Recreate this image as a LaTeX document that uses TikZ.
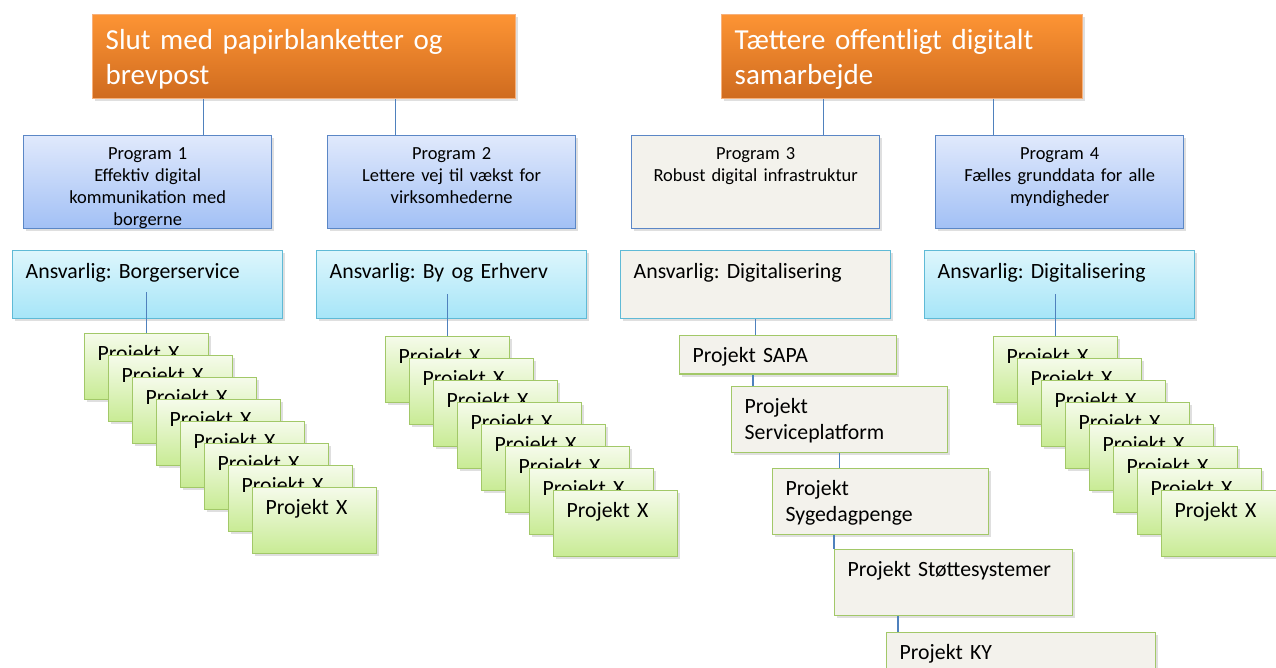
\documentclass[tikz,border=0pt]{standalone}
\usepackage{fontspec}
\setmainfont{Carlito}
\usepackage{xcolor}
\usepackage{tikz}
\usetikzlibrary{shadows}
\frenchspacing

\definecolor{goaltop}{HTML}{FD9434}
\definecolor{goalbot}{HTML}{CF6B1F}
\definecolor{goalline}{HTML}{F7B07A}
\definecolor{progtop}{HTML}{E0E9FC}
\definecolor{progbot}{HTML}{A2C0F5}
\definecolor{progline}{HTML}{5B87C6}
\definecolor{ansvtop}{HTML}{DDF6FC}
\definecolor{ansvbot}{HTML}{A6E5F8}
\definecolor{ansvline}{HTML}{5FBAD6}
\definecolor{projtop}{HTML}{F5FBEA}
\definecolor{projbot}{HTML}{C8EB94}
\definecolor{projline}{HTML}{A2C868}
\definecolor{beige}{HTML}{F3F2EC}
\definecolor{linkblue}{HTML}{4F81BD}

\begin{document}
\begin{tikzpicture}[x=0.02cm, y=-0.02cm,
			box/.style={rectangle, anchor=north west, line width=0.8pt, inner ysep=0pt, inner xsep=0.26cm, drop shadow={shadow xshift=0.04cm, shadow yshift=-0.05cm, opacity=0.25}},
			goal/.style={box, draw=goalline, top color=goaltop, bottom color=goalbot, text=white, align=left, text width=#1, text height=0.70cm, text depth=0.98cm, font=\fontsize{16.5}{20}\selectfont},
			progbox/.style={box, draw=progline, align=center, text width=4.44cm, text height=0.48cm, text depth=1.38cm, font=\fontsize{10.5}{12.5}\selectfont},
			prog/.style={progbox, top color=progtop, bottom color=progbot},
			progplain/.style={progbox, fill=beige},
			ansvbox/.style={box, draw=ansvline, align=left, text width=4.88cm, text height=0.56cm, text depth=0.80cm, font=\fontsize{12.4}{15}\selectfont},
			ansv/.style={ansvbox, top color=ansvtop, bottom color=ansvbot},
			ansvplain/.style={ansvbox, fill=beige},
			proj/.style={box, draw=projline, top color=projtop, bottom color=projbot, align=left, text width=1.96cm, text height=0.54cm, text depth=0.78cm, font=\fontsize{12.4}{15}\selectfont},
			task/.style={box, draw=projline, fill=beige, align=left, text width=#1, text height=0.53cm, text depth=0.79cm, font=\fontsize{12.4}{15}\selectfont},
			link/.style={draw=linkblue, line width=0.6pt}
		]
		\useasboundingbox (0,0) rectangle (1276,668);

		% Goals
		\node[goal=7.94cm] (g1) at (92,14) {Slut med papirblanketter og\\brevpost};
		\node[goal=6.70cm] (g2) at (721,14) {Tættere offentligt digitalt\\samarbejde};

		% Programs
		\node[prog] (p1) at (23,135) {Program 1\\Effektiv digital\\kommunikation med\\borgerne};
		\node[prog] (p2) at (327,135) {Program 2\\Lettere vej til vækst for\\virksomhederne};
		\node[progplain] (p3) at (631,135) {Program 3\\Robust digital infrastruktur};
		\node[prog] (p4) at (935,135) {Program 4\\Fælles grunddata for alle\\myndigheder};

		% Responsible units
		\node[ansv] (a1) at (12,250) {Ansvarlig: Borgerservice};
		\node[ansv] (a2) at (316,250) {Ansvarlig: By og Erhverv};
		\node[ansvplain] (a3) at (620,250) {Ansvarlig: Digitalisering};
		\node[ansv] (a4) at (924,250) {Ansvarlig: Digitalisering};

		% Project stacks
		\foreach \i in {1,...,8} {
			\node[proj] (s1-\i) at ({84+24*(\i-1)},{333+22*(\i-1)}) {Projekt X};
		}
		\foreach \i in {1,...,8} {
			\node[proj] (s2-\i) at ({385+24*(\i-1)},{336+22*(\i-1)}) {Projekt X};
		}
		\foreach \i in {1,...,8} {
			\node[proj] (s4-\i) at ({993+24*(\i-1)},{336+22*(\i-1)}) {Projekt X};
		}

		% Program 3 projects
		\node[task=3.82cm, text depth=0.24cm] (sapa) at (679,335) {Projekt SAPA};
		\node[task=3.80cm] (svc) at (731,386) {Projekt\\Serviceplatform};
		\node[task=3.80cm] (syg) at (772,468) {Projekt\\Sygedagpenge};
		\node[task=4.24cm] (stotte) at (834,549) {Projekt Støttesystemer};
		\node[task=4.86cm] (ky) at (886,632) {Projekt KY};

		% Links
		\draw[link] ([xshift=1.12cm]p1.north) -- ([xshift=1.12cm]p1.north |- g1.south);
		\draw[link] ([xshift=-1.12cm]p2.north) -- ([xshift=-1.12cm]p2.north |- g1.south);
		\draw[link] ([xshift=1.36cm]p3.north) -- ([xshift=1.36cm]p3.north |- g2.south);
		\draw[link] ([xshift=-1.32cm]p4.north) -- ([xshift=-1.32cm]p4.north |- g2.south);
		\draw[link] (s1-1.north) -- ([yshift=0.54cm]s1-1.north |- a1.south);
		\draw[link] (s2-1.north) -- ([yshift=0.5cm]s2-1.north |- a2.south);
		\draw[link] (s4-1.north) -- ([yshift=0.5cm]s4-1.north |- a4.south);
		\draw[link] (a3.south) -- (a3.south |- sapa.north);
		\draw[link] ([xshift=0.44cm]svc.north west) -- ([xshift=0.44cm]svc.north west |- sapa.south);
		\draw[link] (svc.south) -- (svc.south |- syg.north);
		\draw[link] (stotte.north west) -- (stotte.north west |- syg.south);
		\draw[link] ([xshift=0.24cm]ky.north west) -- ([xshift=0.24cm]ky.north west |- stotte.south);

	\end{tikzpicture}
\end{document}
